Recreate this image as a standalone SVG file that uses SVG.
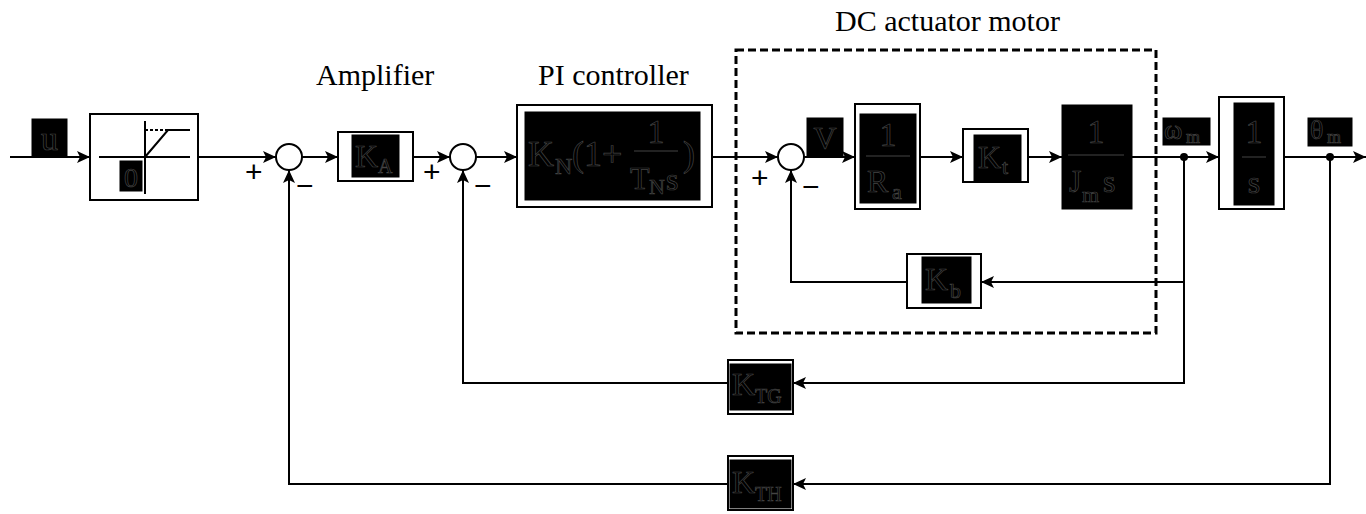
<svg xmlns="http://www.w3.org/2000/svg" width="1366" height="514" viewBox="0 0 1366 514">
<defs>
<style>
.lbl{font-family:"Liberation Serif","Times New Roman",serif;font-size:30px;fill:#000}
.bt{font-family:"Liberation Serif","Times New Roman",serif;fill:#000;stroke:#444;stroke-width:0.7}
.sg{font-family:"Liberation Sans",Arial,sans-serif;font-size:30px;fill:#000}
.box{fill:#fff;stroke:#000;stroke-width:2}
.blk{fill:#000;stroke:#000;stroke-width:1}
.sum{fill:#fff;stroke:#000;stroke-width:2}
.ln{fill:none;stroke:#000;stroke-width:2}
.fl{stroke:#444;stroke-width:1}
</style>
<marker id="ar" markerUnits="userSpaceOnUse" markerWidth="14" markerHeight="12" refX="13" refY="6" orient="auto">
<path d="M0,0 L13,6 L0,12 L3,6 Z" fill="#000"/>
</marker>
</defs>
<rect width="1366" height="514" fill="#fff"/>

<g id="labels">
<text class="lbl" x="316" y="85">Amplifier</text>
<text class="lbl" x="538" y="85">PI controller</text>
<text class="lbl" x="835" y="31">DC actuator motor</text>
</g>

<g id="motor-frame">
<rect x="736" y="50" width="420" height="283" fill="none" stroke="#000" stroke-width="3" stroke-dasharray="8,4"/>
</g>

<g id="connectors" class="ln">
<path d="M10,157 H90" marker-end="url(#ar)"/>
<path d="M198,157 H276" marker-end="url(#ar)"/>
<path d="M302,157 H338" marker-end="url(#ar)"/>
<path d="M413,157 H450" marker-end="url(#ar)"/>
<path d="M476,157 H517" marker-end="url(#ar)"/>
<path d="M712,157 H778" marker-end="url(#ar)"/>
<path d="M804,157 H855" marker-end="url(#ar)"/>
<path d="M920,157 H963" marker-end="url(#ar)"/>
<path d="M1028,157 H1062" marker-end="url(#ar)"/>
<path d="M1132,157 H1219" marker-end="url(#ar)"/>
<path d="M1284,157 H1366" marker-end="url(#ar)"/>
<path d="M1184,282 H981" marker-end="url(#ar)"/>
<path d="M907,282 H791 V170" marker-end="url(#ar)"/>
<path d="M1184,157 V383 H793" marker-end="url(#ar)"/>
<path d="M728,383 H463 V170" marker-end="url(#ar)"/>
<path d="M1330,157 V484 H793" marker-end="url(#ar)"/>
<path d="M728,484 H289 V170" marker-end="url(#ar)"/>
<circle cx="1184" cy="157" r="4" fill="#000" stroke="none"/>
<circle cx="1330" cy="157" r="4" fill="#000" stroke="none"/>
</g>

<g id="input-u">
<rect class="blk" x="32" y="119" width="35" height="37"/>
<text class="bt" x="49.5" y="150" font-size="34" text-anchor="middle">u</text>
</g>

<g id="saturation">
<rect class="box" x="90" y="114" width="108" height="86"/>
<path d="M99,157 H190 M145,121 V194 M145,157 L168,130 H190" class="ln"/>
<path d="M145,130 H168" fill="none" stroke="#000" stroke-width="2" stroke-dasharray="3,2"/>
<rect class="blk" x="120" y="161" width="22" height="30"/>
<text class="bt" x="131" y="187" font-size="28" text-anchor="middle">0</text>
</g>

<g id="sum1">
<circle class="sum" cx="289" cy="157" r="13"/>
<text class="sg" x="245" y="182">+</text>
<text class="sg" x="296" y="196">−</text>
</g>

<g id="amplifier">
<rect class="box" x="338" y="132" width="75" height="49"/>
<rect class="blk" x="352" y="135" width="47" height="42"/>
<text class="bt" x="355" y="167" font-size="32">K</text>
<text class="bt" x="378" y="173" font-size="20">A</text>
</g>

<g id="sum2">
<circle class="sum" cx="463" cy="157" r="13"/>
<text class="sg" x="423" y="182">+</text>
<text class="sg" x="474" y="196">−</text>
</g>

<g id="pi-controller">
<rect class="box" x="517" y="105" width="195" height="102"/>
<rect class="blk" x="525" y="112" width="175" height="88"/>
<text class="bt" x="528" y="166" font-size="36">K</text>
<text class="bt" x="555" y="174" font-size="24">N</text>
<text class="bt" x="572" y="166" font-size="36">(1+</text>
<line class="fl" x1="634" y1="151" x2="678" y2="151"/>
<text class="bt" x="656" y="143" font-size="34" text-anchor="middle">1</text>
<text class="bt" x="630" y="189" font-size="32">T</text>
<text class="bt" x="649" y="194" font-size="22">N</text>
<text class="bt" x="666" y="190" font-size="32">s</text>
<text class="bt" x="683" y="166" font-size="36">)</text>
</g>

<g id="sum3">
<circle class="sum" cx="791" cy="157" r="13"/>
<text class="sg" x="751" y="188">+</text>
<text class="sg" x="802" y="197">−</text>
</g>

<g id="label-V">
<rect class="blk" x="807" y="118" width="36" height="39"/>
<text class="bt" x="825" y="149" font-size="32" text-anchor="middle">V</text>
</g>

<g id="inv-Ra">
<rect class="box" x="855" y="104" width="65" height="105"/>
<rect class="blk" x="860" y="114" width="56" height="89"/>
<text class="bt" x="888" y="146" font-size="34" text-anchor="middle">1</text>
<line class="fl" x1="866" y1="156" x2="910" y2="156"/>
<text class="bt" x="867" y="192" font-size="32">R</text>
<text class="bt" x="892" y="199" font-size="22">a</text>
</g>

<g id="Kt">
<rect class="box" x="963" y="129" width="65" height="53"/>
<rect class="blk" x="974" y="135" width="47" height="47"/>
<text class="bt" x="978" y="168" font-size="32">K</text>
<text class="bt" x="1002" y="174" font-size="22">t</text>
</g>

<g id="inv-Jm-s">
<rect class="blk" x="1062" y="105" width="70" height="104"/>
<text class="bt" x="1096" y="143" font-size="34" text-anchor="middle">1</text>
<line class="fl" x1="1068" y1="155" x2="1124" y2="155"/>
<text class="bt" x="1069" y="192" font-size="32">J</text>
<text class="bt" x="1082" y="202" font-size="22">m</text>
<text class="bt" x="1103" y="192" font-size="32">s</text>
</g>

<g id="label-omega">
<rect class="blk" x="1163" y="118" width="47" height="27"/>
<text class="bt" x="1164" y="139" font-size="28">ω</text>
<text class="bt" x="1186" y="143" font-size="18">m</text>
</g>

<g id="integrator">
<rect class="box" x="1219" y="97" width="65" height="112"/>
<rect class="blk" x="1234" y="103" width="40" height="102"/>
<text class="bt" x="1254" y="143" font-size="34" text-anchor="middle">1</text>
<line class="fl" x1="1242" y1="157" x2="1266" y2="157"/>
<text class="bt" x="1254" y="193" font-size="32" text-anchor="middle">s</text>
</g>

<g id="label-theta">
<rect class="blk" x="1308" y="118" width="44" height="28"/>
<text class="bt" x="1310" y="139" font-size="28">θ</text>
<text class="bt" x="1327" y="143" font-size="18">m</text>
</g>

<g id="Kb">
<rect class="box" x="907" y="254" width="74" height="54"/>
<rect class="blk" x="922" y="257" width="49" height="46"/>
<text class="bt" x="925" y="290" font-size="32">K</text>
<text class="bt" x="950" y="298" font-size="22">b</text>
</g>

<g id="KTG">
<rect class="box" x="728" y="360" width="65" height="54"/>
<rect class="blk" x="730" y="364" width="61" height="46"/>
<text class="bt" x="732" y="395" font-size="32">K</text>
<text class="bt" x="755" y="403" font-size="20">TG</text>
</g>

<g id="KTH">
<rect class="box" x="728" y="456" width="65" height="54"/>
<rect class="blk" x="730" y="460" width="61" height="48"/>
<text class="bt" x="732" y="493" font-size="32">K</text>
<text class="bt" x="755" y="501" font-size="20">TH</text>
</g>
</svg>
